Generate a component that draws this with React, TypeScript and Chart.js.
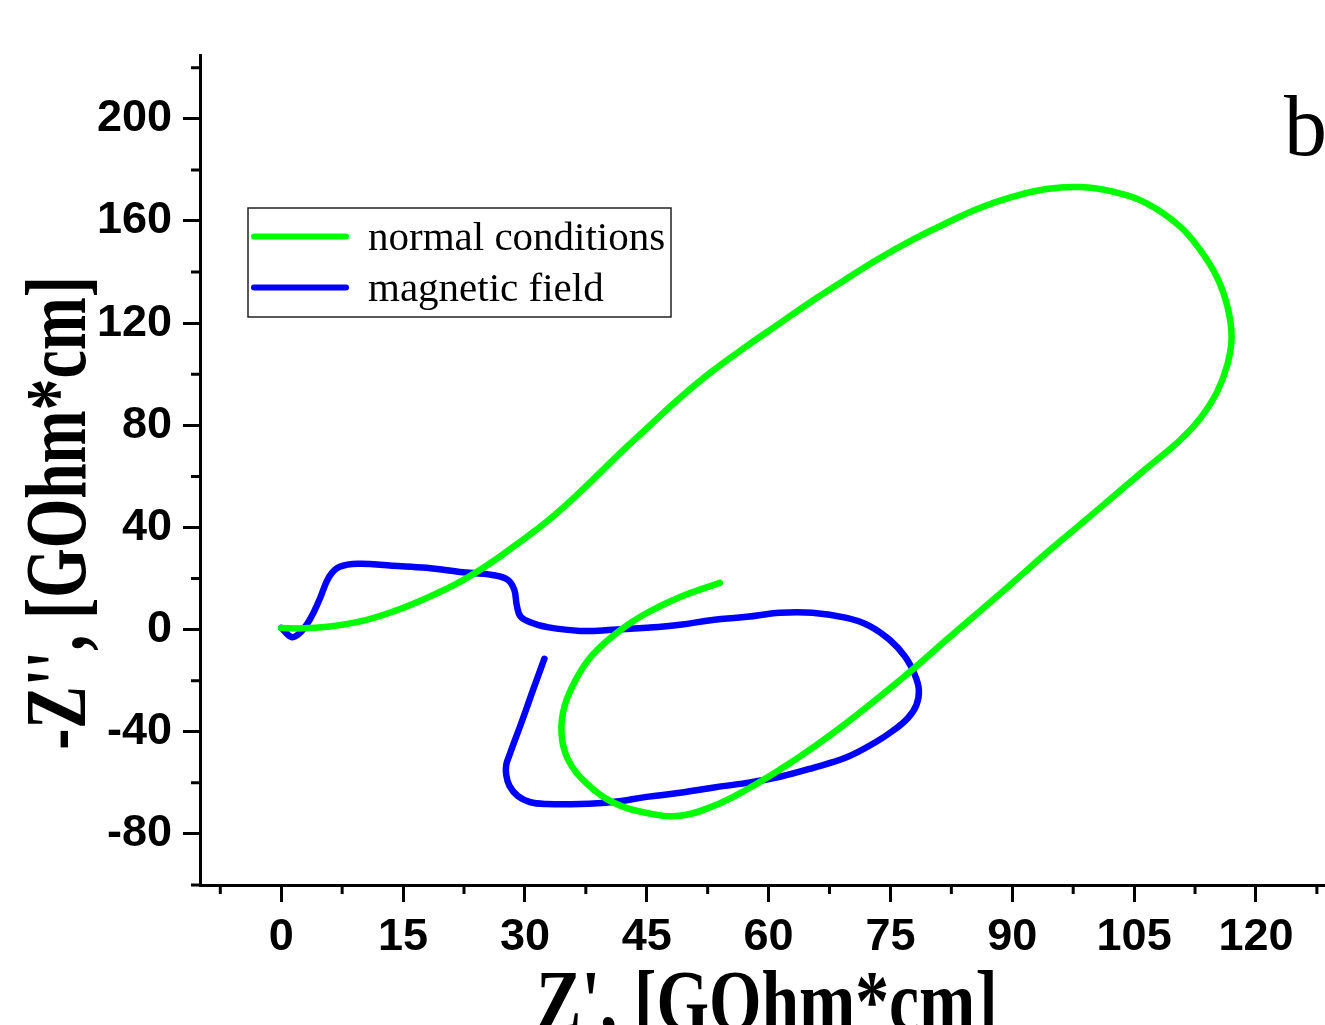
import React, { useEffect, useRef } from "react";
import { Chart, registerables } from "chart.js";

Chart.register(...registerables);

// ---- data ----
const seriesLabels = ["normal conditions", "magnetic field"];
const seriesColors = ["#00FF00", "#0000FF"];

const normalX = [0, 2.6, 5.6, 9.6, 13.7, 17.9, 22.0, 26.0, 28.5, 32.7, 36.7, 40.8, 45.0, 49.0, 53.1, 57.3, 61.4, 65.4, 69.6, 73.7, 77.7, 81.9, 85.9, 90.1, 94.2, 98.3, 102.4, 106.6, 110.6, 113.1, 115.2, 116.5, 117.0, 116.5, 115.2, 113.1, 110.6, 106.6, 102.4, 98.3, 94.2, 90.1, 86.0, 81.9, 77.8, 73.7, 69.6, 65.4, 61.4, 57.3, 53.1, 49.1, 45.0, 40.8, 37.6, 35.3, 34.5, 34.9, 36.4, 38.4, 41.7, 45.0, 49.1, 54.0];
const normalY = [0.6, 0.5, 1.1, 3.1, 7.0, 12.4, 18.7, 26.6, 32.3, 42.3, 53.6, 66.3, 78.8, 90.5, 101.3, 111.0, 120.0, 128.8, 137.4, 145.5, 152.6, 159.2, 165.0, 169.5, 172.5, 173.3, 171.5, 166.8, 158.0, 148.8, 138.0, 126.3, 114.6, 104.0, 93.0, 82.6, 74.0, 63.4, 52.0, 41.0, 30.0, 18.5, 7.2, -4.0, -15.4, -26.2, -36.5, -46.3, -54.8, -62.6, -69.2, -72.9, -71.8, -67.6, -60.2, -50.8, -40.5, -29.8, -18.8, -9.6, -0.3, 6.5, 12.8, 18.3];

const magneticX = [0, 1.3, 2.3, 3.5, 4.7, 5.9, 7.2, 9.6, 13.7, 17.9, 22.0, 26.0, 27.9, 28.7, 29.0, 29.5, 31.0, 32.7, 36.8, 40.8, 45.0, 49.1, 53.1, 57.3, 61.4, 65.4, 69.6, 72.4, 74.9, 76.8, 78.0, 78.5, 78.2, 77.1, 75.3, 73.1, 69.6, 65.4, 61.4, 57.3, 53.1, 49.1, 45.0, 40.8, 36.8, 32.7, 30.6, 29.1, 28.1, 27.7, 27.7, 28.1, 29.7, 31.0, 32.4];
const magneticY = [0.7, -2.9, -1.3, 3.8, 11.7, 20.7, 24.6, 25.8, 25.0, 24.2, 22.6, 21.4, 19.5, 15.5, 9.5, 5.0, 2.5, 1.0, -0.5, -0.1, 0.7, 1.9, 3.8, 5.0, 6.6, 6.6, 4.6, 1.5, -4.0, -10.6, -17.7, -23.6, -29.5, -34.8, -39.6, -44.2, -50.0, -54.2, -57.6, -60.0, -61.9, -63.9, -65.5, -67.5, -68.3, -68.3, -67.5, -65.1, -61.2, -56.9, -53.0, -49.1, -35.3, -23.6, -11.4];

const xMajorTicks = [0, 15, 30, 45, 60, 75, 90, 105, 120];
const xMinorTicks = [-7.5, 7.5, 22.5, 37.5, 52.5, 67.5, 82.5, 97.5, 112.5, 127.5];
const yMajorTicks = [-80, -40, 0, 40, 80, 120, 160, 200];
const yMinorTicks = [-100, -60, -20, 20, 60, 100, 140, 180, 220];

const xTitle = "Z', [GOhm*cm]";
const yTitle = "-Z'', [GOhm*cm]";
const panelLabel = "b";

const SERIF = "'Liberation Serif', 'Times New Roman', serif";
const SANS = "'Liberation Sans', Arial, sans-serif";

const decorPlugin = {
  id: "decor",
  afterDraw(chart: any) {
    const ctx = chart.ctx as CanvasRenderingContext2D;
    const xs = chart.scales.x;
    const ys = chart.scales.y;
    ctx.save();

    // minor ticks
    ctx.strokeStyle = "#000";
    ctx.lineWidth = 3;
    ctx.beginPath();
    xMinorTicks.forEach((v) => {
      const p = xs.getPixelForValue(v);
      if (p >= xs.left - 1 && p <= xs.right + 1) {
        ctx.moveTo(p, xs.top);
        ctx.lineTo(p, xs.top + 9);
      }
    });
    yMinorTicks.forEach((v) => {
      const p = ys.getPixelForValue(v);
      ctx.moveTo(ys.right, p);
      ctx.lineTo(ys.right - 9, p);
    });
    ctx.stroke();

    // axis titles (condensed bold serif)
    ctx.fillStyle = "#000";
    ctx.font = `bold 86px ${SERIF}`;
    ctx.textAlign = "center";
    ctx.textBaseline = "alphabetic";
    ctx.save();
    ctx.translate(767, 1030);
    ctx.scale(0.785, 1);
    ctx.fillText(xTitle, 0, 0);
    ctx.restore();

    ctx.save();
    ctx.translate(85, 513);
    ctx.rotate(-Math.PI / 2);
    ctx.scale(0.74, 1);
    ctx.fillText(yTitle, 0, 0);
    ctx.restore();

    // panel label
    ctx.font = `86px ${SERIF}`;
    ctx.textAlign = "left";
    ctx.fillText(panelLabel, 1284, 155);

    // legend
    const bx = 248, by = 208, bw = 423, bh = 109;
    ctx.fillStyle = "#fff";
    ctx.fillRect(bx, by, bw, bh);
    ctx.strokeStyle = "#222";
    ctx.lineWidth = 1.5;
    ctx.strokeRect(bx, by, bw, bh);
    chart.data.datasets.forEach((ds: any, i: number) => {
      const y = 236.5 + i * 51;
      ctx.beginPath();
      ctx.strokeStyle = ds.borderColor;
      ctx.lineWidth = 6;
      ctx.lineCap = "round";
      ctx.moveTo(254, y);
      ctx.lineTo(346, y);
      ctx.stroke();
      ctx.fillStyle = "#000";
      ctx.font = `41px ${SERIF}`;
      ctx.textAlign = "left";
      ctx.textBaseline = "alphabetic";
      ctx.fillText(ds.label, 368, y + 13.5);
    });

    ctx.restore();
  },
};

export default function App() {
  const canvasRef = useRef<HTMLCanvasElement | null>(null);

  useEffect(() => {
    if (!canvasRef.current) return;
    const tickFont = { family: SANS, weight: "bold" as const, size: 45 };
    const lineStyle = {
      borderWidth: 6.5,
      pointRadius: 0,
      tension: 0.4,
      fill: false,
      borderCapStyle: "round" as const,
      borderJoinStyle: "round" as const,
    };
    const chart = new Chart(canvasRef.current, {
      type: "line",
      data: {
        datasets: [
          {
            label: seriesLabels[0],
            data: normalX.map((x, i) => ({ x, y: normalY[i] })),
            borderColor: seriesColors[0],
            backgroundColor: seriesColors[0],
            ...lineStyle,
          },
          {
            label: seriesLabels[1],
            data: magneticX.map((x, i) => ({ x, y: magneticY[i] })),
            borderColor: seriesColors[1],
            backgroundColor: seriesColors[1],
            ...lineStyle,
          },
        ],
      },
      options: {
        responsive: false,
        animation: false,
        devicePixelRatio: 1,
        layout: { padding: { top: 55, left: 0, right: 0, bottom: 0 } },
        plugins: {
          legend: { display: false },
          tooltip: { enabled: false },
        },
        scales: {
          x: {
            type: "linear",
            min: -10,
            max: 128.5,
            afterBuildTicks: (s: any) => {
              s.ticks = xMajorTicks.map((v) => ({ value: v }));
            },
            afterFit: (s: any) => {
              s.height = 140;
            },
            grid: {
              display: true,
              drawOnChartArea: false,
              drawTicks: true,
              tickLength: 17,
              tickWidth: 3,
              tickColor: "#000",
            },
            border: { display: true, color: "#000", width: 3 },
            ticks: {
              font: tickFont,
              color: "#000",
              padding: 9,
              maxRotation: 0,
              autoSkip: false,
              callback: (v: any) => String(v),
            },
          },
          y: {
            type: "linear",
            min: -100,
            max: 225,
            afterBuildTicks: (s: any) => {
              s.ticks = yMajorTicks.map((v) => ({ value: v }));
            },
            afterFit: (s: any) => {
              s.width = 200;
            },
            grid: {
              display: true,
              drawOnChartArea: false,
              drawTicks: true,
              tickLength: 17,
              tickWidth: 3,
              tickColor: "#000",
            },
            border: { display: true, color: "#000", width: 3 },
            ticks: {
              font: tickFont,
              color: "#000",
              padding: 11,
              autoSkip: false,
              callback: (v: any) => String(v),
            },
          },
        },
      },
      plugins: [decorPlugin],
    });
    return () => chart.destroy();
  }, []);

  return (
    <div style={{ position: "fixed", left: 0, top: 0, width: 1325, height: 1025, background: "#fff", overflow: "hidden" }}>
      <canvas ref={canvasRef} width={1325} height={1025} style={{ display: "block", width: 1325, height: 1025 }} />
    </div>
  );
}
